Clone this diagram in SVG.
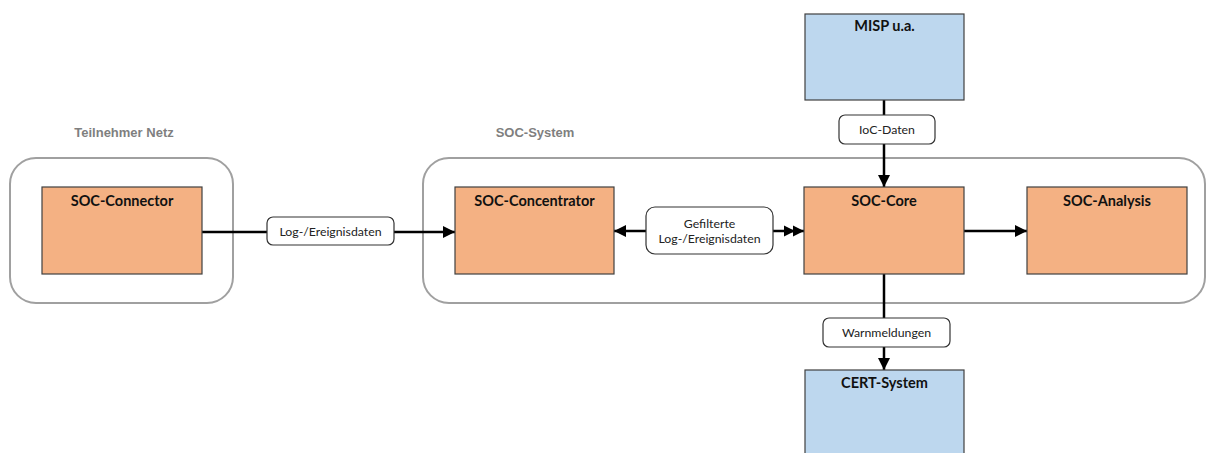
<svg xmlns="http://www.w3.org/2000/svg" width="1206" height="453" viewBox="0 0 1206 453">
  <style>
    .zone { fill: #ffffff; stroke: #a0a0a0; stroke-width: 2; }
    .zone-title { font-family: "Liberation Sans", Arial, sans-serif; font-weight: bold; font-size: 13px; fill: #7f7f7f; text-anchor: middle; }
    .box { stroke: #404040; stroke-width: 1.2; }
    .orange { fill: #f4b183; }
    .blue { fill: #bdd7ee; }
    .box-title { font-family: Lato, "Liberation Sans", sans-serif; font-weight: bold; font-size: 14.5px; fill: #111111; text-anchor: middle; }
    .wire { stroke: #000000; stroke-width: 2.5; fill: none; }
    .tag { fill: #ffffff; stroke: #333333; stroke-width: 1.2; }
    .tag-text { font-family: Lato, "Liberation Sans", sans-serif; font-size: 12.3px; fill: #222222; text-anchor: middle; }
  </style>
  <defs>
    <marker id="arrow" viewBox="0 0 12 12" refX="12" refY="6" markerWidth="12" markerHeight="12" markerUnits="userSpaceOnUse" orient="auto">
      <path d="M0,0 L12,6 L0,12 Z" fill="#000000"/>
    </marker>
    <marker id="arrow2" viewBox="0 0 20 12" refX="20" refY="6" markerWidth="20" markerHeight="12" markerUnits="userSpaceOnUse" orient="auto">
      <path d="M0,0.5 L11,6 L0,11.5 Z M9,0.5 L20,6 L9,11.5 Z" fill="#000000"/>
    </marker>
  </defs>

  <!-- zones -->
  <g id="zone-teilnehmer">
    <rect class="zone" x="10" y="158" width="223" height="145" rx="26" ry="26"/>
    <text class="zone-title" x="124" y="137">Teilnehmer Netz</text>
  </g>
  <g id="zone-soc">
    <rect class="zone" x="423" y="158" width="782" height="145" rx="26" ry="26"/>
    <text class="zone-title" x="535" y="137">SOC-System</text>
  </g>

  <!-- connectors -->
  <g id="connectors">
    <line class="wire" x1="202" y1="232" x2="267" y2="232"/>
    <line class="wire" x1="394" y1="232" x2="455" y2="232" marker-end="url(#arrow)"/>
    <line class="wire" x1="646" y1="231" x2="614" y2="231" marker-end="url(#arrow)"/>
    <line class="wire" x1="773" y1="231" x2="804" y2="231" marker-end="url(#arrow2)"/>
    <line class="wire" x1="964" y1="231" x2="1027" y2="231" marker-end="url(#arrow)"/>
    <line class="wire" x1="884" y1="100" x2="884" y2="115"/>
    <line class="wire" x1="884" y1="144" x2="884" y2="187" marker-end="url(#arrow)"/>
    <line class="wire" x1="884" y1="274" x2="884" y2="318"/>
    <line class="wire" x1="884" y1="347" x2="884" y2="370" marker-end="url(#arrow)"/>

    <g id="label-log">
      <rect class="tag" x="267" y="217" width="127" height="28" rx="6" ry="6"/>
      <text class="tag-text" x="330.5" y="236">Log-/Ereignisdaten</text>
    </g>
    <g id="label-filtered">
      <rect class="tag" x="646" y="207" width="127" height="47" rx="9" ry="9"/>
      <text class="tag-text" x="709.5" y="228">Gefilterte</text>
      <text class="tag-text" x="709.5" y="243">Log-/Ereignisdaten</text>
    </g>
    <g id="label-ioc">
      <rect class="tag" x="839" y="115" width="96" height="29" rx="6" ry="6"/>
      <text class="tag-text" x="887" y="134">IoC-Daten</text>
    </g>
    <g id="label-warn">
      <rect class="tag" x="823" y="318" width="127" height="29" rx="6" ry="6"/>
      <text class="tag-text" x="886.5" y="337">Warnmeldungen</text>
    </g>
  </g>

  <!-- nodes -->
  <g id="soc-connector">
    <rect class="box orange" x="42" y="187" width="160" height="87"/>
    <text class="box-title" x="122" y="206">SOC-Connector</text>
  </g>
  <g id="soc-concentrator">
    <rect class="box orange" x="455" y="187" width="159" height="87"/>
    <text class="box-title" x="534.5" y="206">SOC-Concentrator</text>
  </g>
  <g id="soc-core">
    <rect class="box orange" x="804" y="187" width="160" height="87"/>
    <text class="box-title" x="884" y="206">SOC-Core</text>
  </g>
  <g id="soc-analysis">
    <rect class="box orange" x="1027" y="187" width="160" height="87"/>
    <text class="box-title" x="1107" y="206">SOC-Analysis</text>
  </g>
  <g id="misp">
    <rect class="box blue" x="805" y="14" width="159" height="86"/>
    <text class="box-title" x="884.5" y="31">MISP u.a.</text>
  </g>
  <g id="cert-system">
    <rect class="box blue" x="805" y="370" width="159" height="90"/>
    <text class="box-title" x="884.5" y="388">CERT-System</text>
  </g>
</svg>
